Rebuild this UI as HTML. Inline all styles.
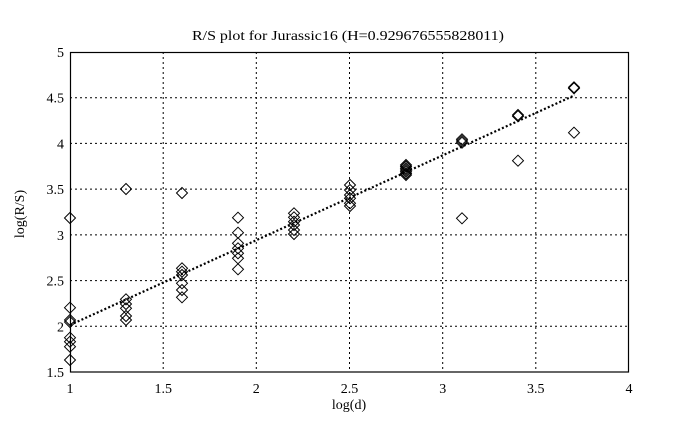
<!DOCTYPE html>
<html><head><meta charset="utf-8"><style>
html,body{margin:0;padding:0;background:#fff;}
svg{display:block;}
text{font-family:"Liberation Serif","Times New Roman",serif;fill:#000;}
</style></head><body>
<svg width="678" height="430" viewBox="0 0 678 430" xmlns="http://www.w3.org/2000/svg">
<rect width="678" height="430" fill="#fff"/>
<!-- grid -->
<g stroke="#000" stroke-width="1" stroke-dasharray="2,3" fill="none">
<line x1="163.2" y1="52" x2="163.2" y2="372"/>
<line x1="256.3" y1="52" x2="256.3" y2="372"/>
<line x1="349.5" y1="52" x2="349.5" y2="372"/>
<line x1="442.7" y1="52" x2="442.7" y2="372"/>
<line x1="535.8" y1="52" x2="535.8" y2="372"/>
<line x1="70" y1="97.7" x2="629" y2="97.7"/>
<line x1="70" y1="143.4" x2="629" y2="143.4"/>
<line x1="70" y1="189.1" x2="629" y2="189.1"/>
<line x1="70" y1="234.9" x2="629" y2="234.9"/>
<line x1="70" y1="280.6" x2="629" y2="280.6"/>
<line x1="70" y1="326.3" x2="629" y2="326.3"/>
</g>
<!-- frame -->
<rect x="70.5" y="52.5" width="558" height="319.5" fill="none" stroke="#000" stroke-width="1.2"/>
<!-- fit line -->
<line x1="70" y1="325" x2="574.8" y2="95.2" stroke="#000" stroke-width="2.2" stroke-dasharray="2,2.2"/>
<!-- diamonds -->
<defs><path id="d" d="M0,-5.5 L5.5,0 L0,5.5 L-5.5,0 Z" fill="none" stroke="#000" stroke-width="1"/></defs>
<g>
<use href="#d" x="70" y="218"/><use href="#d" x="70" y="307.7"/><use href="#d" x="70" y="320"/><use href="#d" x="70" y="322"/><use href="#d" x="70" y="337.7"/><use href="#d" x="70" y="341.7"/><use href="#d" x="70" y="346.7"/><use href="#d" x="70" y="360"/>
<use href="#d" x="126" y="189"/><use href="#d" x="126" y="299.3"/><use href="#d" x="126" y="304"/><use href="#d" x="126" y="308.3"/><use href="#d" x="126" y="316"/><use href="#d" x="126" y="320"/>
<use href="#d" x="182" y="193"/><use href="#d" x="182" y="268.3"/><use href="#d" x="182" y="271.7"/><use href="#d" x="182" y="275"/><use href="#d" x="182" y="283.3"/><use href="#d" x="182" y="290"/><use href="#d" x="182" y="297.3"/>
<use href="#d" x="238" y="217.7"/><use href="#d" x="238" y="232.7"/><use href="#d" x="238" y="243.3"/><use href="#d" x="238" y="248.3"/><use href="#d" x="238" y="253.3"/><use href="#d" x="238" y="258.3"/><use href="#d" x="238" y="269.3"/>
<use href="#d" x="294" y="213.3"/><use href="#d" x="294" y="217.3"/><use href="#d" x="294" y="221.7"/><use href="#d" x="294" y="225"/><use href="#d" x="294" y="230"/><use href="#d" x="294" y="234"/>
<use href="#d" x="350" y="185"/><use href="#d" x="350" y="190"/><use href="#d" x="350" y="195"/><use href="#d" x="350" y="198.3"/><use href="#d" x="350" y="203.3"/><use href="#d" x="350" y="206"/>
<use href="#d" x="406" y="165"/><use href="#d" x="406" y="166.5"/><use href="#d" x="406" y="168.3"/><use href="#d" x="406" y="170"/><use href="#d" x="406" y="171.7"/><use href="#d" x="406" y="173.5"/><use href="#d" x="406" y="175"/>
<use href="#d" x="462" y="139.3"/><use href="#d" x="462" y="141"/><use href="#d" x="462" y="142.7"/><use href="#d" x="462" y="218.3"/>
<use href="#d" x="518" y="115"/><use href="#d" x="518" y="116.2"/><use href="#d" x="518" y="160.7"/>
<use href="#d" x="574" y="87.3"/><use href="#d" x="574" y="88.3"/><use href="#d" x="574" y="132.7"/>
</g>
<!-- y tick labels -->
<g font-size="14" text-anchor="end">
<text x="64" y="57">5</text>
<text x="64" y="102.7">4.5</text>
<text x="64" y="148.4">4</text>
<text x="64" y="194.1">3.5</text>
<text x="64" y="239.9">3</text>
<text x="64" y="285.6">2.5</text>
<text x="64" y="331.3">2</text>
<text x="64" y="377">1.5</text>
</g>
<!-- x tick labels -->
<g font-size="14" text-anchor="middle">
<text x="70" y="393">1</text>
<text x="163.2" y="393">1.5</text>
<text x="256.3" y="393">2</text>
<text x="349.5" y="393">2.5</text>
<text x="442.7" y="393">3</text>
<text x="535.8" y="393">3.5</text>
<text x="629" y="393">4</text>
</g>
<text x="349" y="409" font-size="14" text-anchor="middle">log(d)</text>
<text x="0" y="0" font-size="14" text-anchor="middle" transform="translate(24,214) rotate(-90)">log(R/S)</text>
<text x="348" y="40" font-size="14" text-anchor="middle" textLength="312" lengthAdjust="spacingAndGlyphs">R/S plot for Jurassic16 (H=0.929676555828011)</text>
</svg>
</body></html>
